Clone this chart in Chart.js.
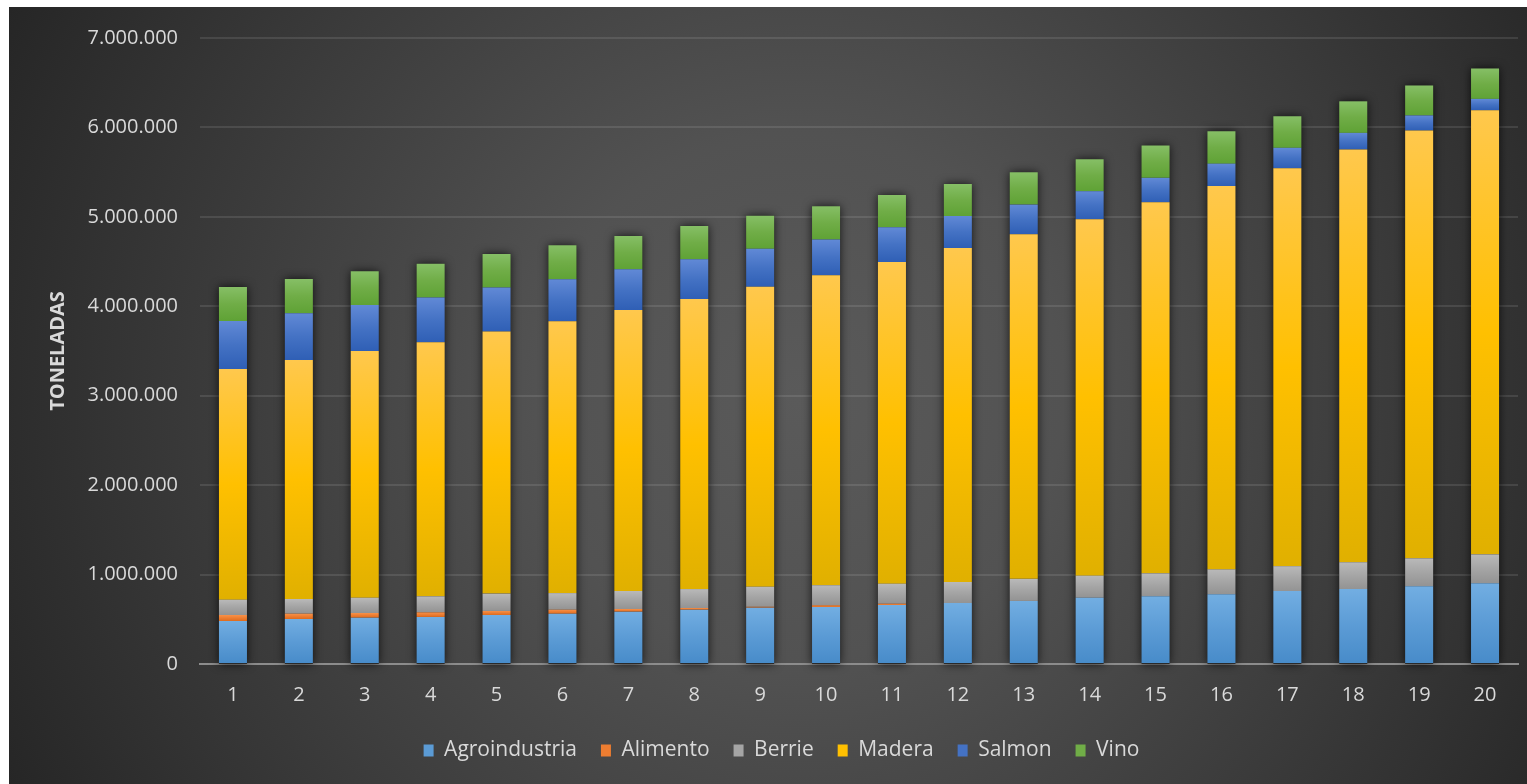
<!DOCTYPE html>
<html>
<head>
<meta charset="utf-8">
<script src="https://cdn.jsdelivr.net/npm/chart.js@4"></script>
<style>
    html, body { margin: 0; background: #fff; }
    #wrap { position: absolute; left: 9px; top: 7px; width: 1518px; height: 777px; }
</style>
</head>
<body>
<div id="wrap"><canvas id="chart"></canvas></div>
<script>
// --- datos (toneladas por año) ---
const years = ['1', '2', '3', '4', '5', '6', '7', '8', '9', '10', '11', '12', '13', '14', '15', '16', '17', '18', '19', '20'];
const agroindustria = [481000, 503000, 518000, 526000, 548000, 562000, 585000, 607000, 630000, 637000, 660000, 682000, 705000, 741000, 758000, 780000, 816000, 838000, 869000, 904000];
const alimento = [67000, 60000, 52000, 52000, 45000, 45000, 30000, 19000, 10000, 20000, 14000, 0, 0, 0, 0, 0, 0, 0, 0, 0];
const berrie = [171000, 164000, 171000, 179000, 194000, 186000, 201000, 212000, 224000, 224000, 224000, 235000, 247000, 247000, 256000, 278000, 278000, 300000, 313000, 322000];
const madera = [2580000, 2673000, 2758000, 2840000, 2930000, 3040000, 3142000, 3243000, 3355000, 3466000, 3597000, 3735000, 3854000, 3986000, 4149000, 4286000, 4449000, 4616000, 4784000, 4965000];
const salmon = [537000, 522000, 514000, 500000, 492000, 470000, 455000, 444000, 425000, 399000, 388000, 358000, 331000, 313000, 273000, 251000, 229000, 185000, 168000, 128000];
const vino = [380000, 384000, 380000, 380000, 377000, 380000, 373000, 373000, 369000, 373000, 361000, 358000, 362000, 357000, 362000, 362000, 353000, 353000, 335000, 340000];
const yTicks = [0, 1000000, 2000000, 3000000, 4000000, 5000000, 6000000, 7000000];

const seriesNames = ['Agroindustria', 'Alimento', 'Berrie', 'Madera', 'Salmon', 'Vino'];
const seriesData = [agroindustria, alimento, berrie, madera, salmon, vino];
// [claro, base, oscuro] para el degradado de cada segmento
const seriesColors = [
    ['#72aee2', '#5b9bd5', '#478bc9'],
    ['#f79149', '#ed7d31', '#dc6c20'],
    ['#b9b9b9', '#a5a5a5', '#939393'],
    ['#ffc84d', '#ffc000', '#e0b000'],
    ['#6189d6', '#4472c4', '#2f5fb5'],
    ['#86bf66', '#70ad47', '#5fa235']
];

const fmt = v => String(v).replace(/\B(?=(\d{3})+(?!\d))/g, '.');

// degradado vertical por segmento, calculado desde la escala
function segmentFill(ctx) {
    const chart = ctx.chart;
    const cols = seriesColors[ctx.datasetIndex];
    if (ctx.type !== 'data' || !chart.chartArea) return cols[1];
    const i = ctx.dataIndex;
    let below = 0;
    for (let d = 0; d < ctx.datasetIndex; d++) below += seriesData[d][i];
    const top = below + seriesData[ctx.datasetIndex][i];
    const y = chart.scales.y;
    const y0 = y.getPixelForValue(top), y1 = y.getPixelForValue(below);
    if (!(y1 - y0 > 0.5)) return cols[1];
    const g = chart.ctx.createLinearGradient(0, y0, 0, y1);
    g.addColorStop(0, cols[0]);
    g.addColorStop(0.5, cols[1]);
    g.addColorStop(1, cols[2]);
    return g;
}

// fondo oscuro con degradado radial
const bgPlugin = {
    id: 'bg',
    beforeDraw(chart) {
        const { ctx, width, height } = chart;
        const g = ctx.createRadialGradient(790, 390, 0, 790, 390, 880);
        g.addColorStop(0, '#5a5a5a');
        g.addColorStop(0.3, '#525252');
        g.addColorStop(1, '#262626');
        ctx.save();
        ctx.fillStyle = g;
        ctx.fillRect(0, 0, width, height);
        ctx.restore();
    }
};

// sombra detrás de cada columna apilada
const shadowPlugin = {
    id: 'barShadow',
    beforeDatasetsDraw(chart) {
        const ctx = chart.ctx;
        const last = chart.getDatasetMeta(seriesData.length - 1);
        const base = chart.scales.y.getPixelForValue(0);
        ctx.save();
        ctx.shadowColor = 'rgba(0,0,0,0.75)';
        ctx.shadowBlur = 10;
        ctx.fillStyle = '#2a2a2a';
        last.data.forEach(bar => {
            ctx.fillRect(bar.x - bar.width / 2, bar.y, bar.width, base - bar.y);
        });
        ctx.restore();
    }
};

const legendShift = {
    id: 'legendShift',
    afterLayout(chart) {
        chart.legend.left += 18;
        chart.legend.right += 18;
    }
};

new Chart(document.getElementById('chart'), {
    type: 'bar',
    data: {
        labels: years,
        datasets: seriesNames.map((name, k) => ({
            label: name,
            data: seriesData[k],
            backgroundColor: segmentFill,
            borderWidth: 0,
            barPercentage: 0.425,
            categoryPercentage: 1
        }))
    },
    plugins: [bgPlugin, shadowPlugin, legendShift],
    options: {
        responsive: true,
        maintainAspectRatio: false,
        animation: false,
        layout: { padding: { top: 31, right: 9, left: 0, bottom: 13 } },
        plugins: {
            tooltip: { enabled: false },
            legend: {
                position: 'bottom',
                labels: {
                    color: '#d9d9d9',
                    font: { family: 'Open Sans', size: 21 },
                    boxWidth: 10,
                    boxHeight: 12,
                    padding: 24,
                    generateLabels(chart) {
                        return seriesNames.map((name, k) => ({
                            text: name,
                            fillStyle: seriesColors[k][1],
                            strokeStyle: seriesColors[k][1],
                            lineWidth: 0,
                            fontColor: '#d9d9d9',
                            datasetIndex: k
                        }));
                    }
                }
            }
        },
        scales: {
            x: {
                stacked: true,
                grid: { display: false, drawTicks: false },
                border: { display: true, color: '#8c8c8c', width: 2 },
                ticks: { color: '#d9d9d9', font: { family: 'Open Sans', size: 20 }, padding: 19 },
                afterFit(scale) { scale.height = 52; }
            },
            y: {
                stacked: true,
                min: 0,
                max: 7000000,
                afterBuildTicks(scale) { scale.ticks = yTicks.map(v => ({ value: v })); },
                grid: { color: 'rgba(255,255,255,0.10)', lineWidth: 2, drawTicks: false },
                border: { display: false },
                ticks: {
                    color: '#d9d9d9',
                    font: { family: 'Open Sans', size: 20 },
                    padding: 22,
                    callback: v => fmt(v)
                },
                title: {
                    display: true,
                    text: 'TONELADAS',
                    color: '#d9d9d9',
                    font: { family: 'Open Sans', size: 20, weight: 'bold' },
                    padding: { top: 37, bottom: 0 }
                },
                afterFit(scale) {
                    scale.width = 191;
                    scale.paddingTop = 0;
                    scale.paddingBottom = 0;
                }
            }
        }
    }
});
</script>
</body>
</html>
